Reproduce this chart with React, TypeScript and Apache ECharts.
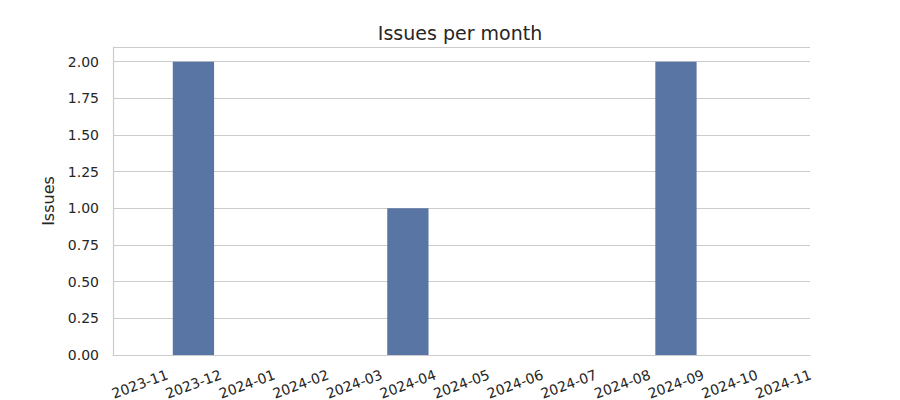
import React, { useEffect, useRef } from "react";
import * as echarts from "echarts";

const months = [
  "2023-11", "2023-12", "2024-01", "2024-02", "2024-03", "2024-04", "2024-05",
  "2024-06", "2024-07", "2024-08", "2024-09", "2024-10", "2024-11",
];
const issues = [0, 2, 0, 0, 0, 1, 0, 0, 0, 0, 2, 0, 0];

export default function App() {
  const ref = useRef<HTMLDivElement>(null);
  useEffect(() => {
    const chart = echarts.init(ref.current!, null, { renderer: "svg" });
    const font = "DejaVu Sans";
    chart.setOption({
      animation: false,
      backgroundColor: "#ffffff",
      title: {
        text: "Issues per month",
        left: 455,
        top: 18,
        textAlign: "center",
        textStyle: { fontFamily: font, fontSize: 19, fontWeight: "normal", color: "#262626" },
      },
      grid: { left: 113, right: 90, top: 47, bottom: 45, containLabel: false, outerBoundsMode: "none" },
      xAxis: {
        type: "category",
        data: months,
        axisLine: { lineStyle: { color: "#cccccc", width: 1.2 } },
        axisTick: { show: false },
        axisLabel: {
          rotate: 20,
          align: "center",
          verticalAlign: "middle",
          margin: 29,
          interval: 0,
          hideOverlap: false,
          fontFamily: font,
          fontSize: 14,
          color: "#262626",
        },
        splitLine: { show: false },
      },
      yAxis: {
        type: "value",
        min: 0,
        max: 2.1,
        interval: 0.25,
        name: "Issues",
        nameLocation: "middle",
        nameGap: 53,
        nameTextStyle: { fontFamily: font, fontSize: 16, color: "#262626" },
        axisLine: { show: true, lineStyle: { color: "#cccccc", width: 1.2 } },
        axisTick: { show: false },
        axisLabel: {
          margin: 14,
          fontFamily: font,
          fontSize: 14,
          color: "#262626",
          formatter: (v: number) => (Math.abs(v - 2.1) < 1e-9 ? "" : v.toFixed(2)),
        },
        splitLine: { show: true, lineStyle: { color: "#cccccc", width: 1 } },
      },
      series: [
        {
          type: "bar",
          data: issues,
          barWidth: "77%",
          itemStyle: { color: "#5975a4", borderWidth: 0 },
        },
      ],
    });
    return () => chart.dispose();
  }, []);
  return (
    <div
      ref={ref}
      style={{ position: "absolute", left: 0, top: 0, width: 900, height: 400 }}
    />
  );
}
